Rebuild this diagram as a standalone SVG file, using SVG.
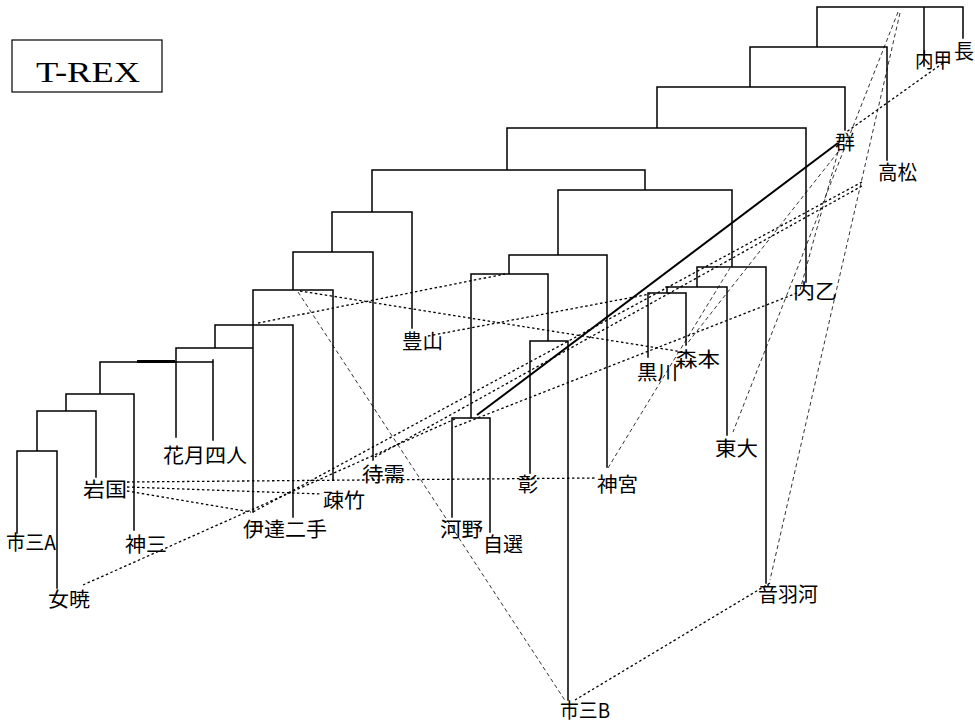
<svg xmlns="http://www.w3.org/2000/svg" width="975" height="724" viewBox="0 0 975 724">
<style>
.t{stroke:#000;stroke-width:1.5;fill:none;stroke-linecap:square}
.dot{stroke:#000;stroke-width:1.3;fill:none;stroke-dasharray:2.5 2.5}
.dash{stroke:#000;stroke-width:0.8;fill:none;stroke-dasharray:4 3}
.heavy{stroke:#000;stroke-width:2;fill:none}
.lbl{font-family:"Noto Sans CJK JP","Noto Sans CJK SC",sans-serif;font-size:20px;fill:#000}
.ttl{font-family:"Liberation Serif",serif;font-size:30px;fill:#000}
</style>
<rect width="975" height="724" fill="#fff"/>
<g id="title">
<rect x="12" y="40" width="150" height="52" fill="none" stroke="#000" stroke-width="1.2"/>
<text class="ttl" x="36" y="82" textLength="104" lengthAdjust="spacingAndGlyphs">T-REX</text>
</g>
<g id="tree">
<path class="t" d="M817,7H963M924,7V66M963,7V38M817,7V47M750,47H887M887,47V160M750,47V87M657,87H845M845,87V130M657,87V128M507,128H806M806,128V282M507,128V170M372,170H645M645,170V190M558,190H732M732,190V267M697,267H766M766,267V583M697,267V287M666,287H727M727,287V435M667,287V293M648,293H686M648,293V357M686,293V345M558,190V255M509,255H607M607,255V467M509,255V274M471,274H548M471,274V418M452,418H490M452,418V517M490,418V532M548,274V341M530,341H568M530,341V473M568,341V700M372,170V212M332,212H412M412,212V328M332,212V252M293,252H373M373,252V460M293,252V290M253,290H333M333,290V480M253,290V512M215,325H293M293,325V517M215,325V348M177,348H253M176,348V437M100,362H213M213,360V440M100,362V394M66,394H134M134,394V530M66,394V411M37,411H96M96,411V477M37,411V451M17,451H57M17,451V533M57,451V588"/>
<path d="M137,361.5H175" stroke="#000" stroke-width="3"/>
</g>
<g id="connectors">
<path class="heavy" d="M838,143L477,415"/>
<path class="dot" d="M83,585L455,419"/>
<path class="dot" d="M127,482L597,478"/>
<path class="dot" d="M127,487L322,494"/>
<path class="dot" d="M127,491L251,512"/>
<path class="dot" d="M300,291L683,352"/>
<path class="dot" d="M258,323L505,274"/>
<path class="dot" d="M428,336L650,294"/>
<path class="dot" d="M797,293L452,428"/>
<path class="dot" d="M862,182L253,512"/>
<path class="dot" d="M862,186L373,458"/>
<path class="dot" d="M943,63L845,133"/>
<path class="dot" d="M770,583L575,700"/>
<path class="dash" d="M608,468L730,268"/>
<path class="dash" d="M898,12L733,432"/>
<path class="dash" d="M900,13L770,580"/>
<path class="dash" d="M298,292L566,702"/>
<path class="dash" d="M838,152L800,290"/>
<path class="dash" d="M838,152L686,345"/>
</g>
<g id="n-shisanA"><text class="lbl" x="6" y="550" textLength="50" lengthAdjust="spacingAndGlyphs">市三A</text></g>
<g id="n-jogyo"><text class="lbl" x="48" y="607" textLength="42" lengthAdjust="spacingAndGlyphs">女暁</text></g>
<g id="n-iwakuni"><text class="lbl" x="83" y="497" textLength="44" lengthAdjust="spacingAndGlyphs">岩国</text></g>
<g id="n-jinsan"><text class="lbl" x="125" y="552" textLength="42" lengthAdjust="spacingAndGlyphs">神三</text></g>
<g id="n-kagetsu"><text class="lbl" x="163" y="463" textLength="84" lengthAdjust="spacingAndGlyphs">花月四人</text></g>
<g id="n-date"><text class="lbl" x="243" y="537" textLength="84" lengthAdjust="spacingAndGlyphs">伊達二手</text></g>
<g id="n-sochiku"><text class="lbl" x="323" y="508" textLength="42" lengthAdjust="spacingAndGlyphs">疎竹</text></g>
<g id="n-taiju"><text class="lbl" x="362" y="482" textLength="43" lengthAdjust="spacingAndGlyphs">待需</text></g>
<g id="n-hozan"><text class="lbl" x="402" y="349" textLength="41" lengthAdjust="spacingAndGlyphs">豊山</text></g>
<g id="n-kono"><text class="lbl" x="440" y="537" textLength="43" lengthAdjust="spacingAndGlyphs">河野</text></g>
<g id="n-jisen"><text class="lbl" x="483" y="552" textLength="40" lengthAdjust="spacingAndGlyphs">自選</text></g>
<g id="n-sho"><text class="lbl" x="518" y="492">彰</text></g>
<g id="n-jingu"><text class="lbl" x="597" y="492" textLength="41" lengthAdjust="spacingAndGlyphs">神宮</text></g>
<g id="n-kurokawa"><text class="lbl" x="637" y="380" textLength="41" lengthAdjust="spacingAndGlyphs">黒川</text></g>
<g id="n-morimoto"><text class="lbl" x="675" y="367" textLength="45" lengthAdjust="spacingAndGlyphs">森本</text></g>
<g id="n-todai"><text class="lbl" x="715" y="456" textLength="43" lengthAdjust="spacingAndGlyphs">東大</text></g>
<g id="n-naiotsu"><text class="lbl" x="793" y="299" textLength="44" lengthAdjust="spacingAndGlyphs">内乙</text></g>
<g id="n-otowa"><text class="lbl" x="758" y="602" textLength="60" lengthAdjust="spacingAndGlyphs">音羽河</text></g>
<g id="n-shisanB"><text class="lbl" x="560" y="718" textLength="50" lengthAdjust="spacingAndGlyphs">市三B</text></g>
<g id="n-gun"><text class="lbl" x="835" y="150">群</text></g>
<g id="n-takamatsu"><text class="lbl" x="878" y="180" textLength="39" lengthAdjust="spacingAndGlyphs">高松</text></g>
<g id="n-naiko"><text class="lbl" x="915" y="68" textLength="37" lengthAdjust="spacingAndGlyphs">内甲</text></g>
<g id="n-cho"><text class="lbl" x="954" y="59">長</text></g>
</svg>
